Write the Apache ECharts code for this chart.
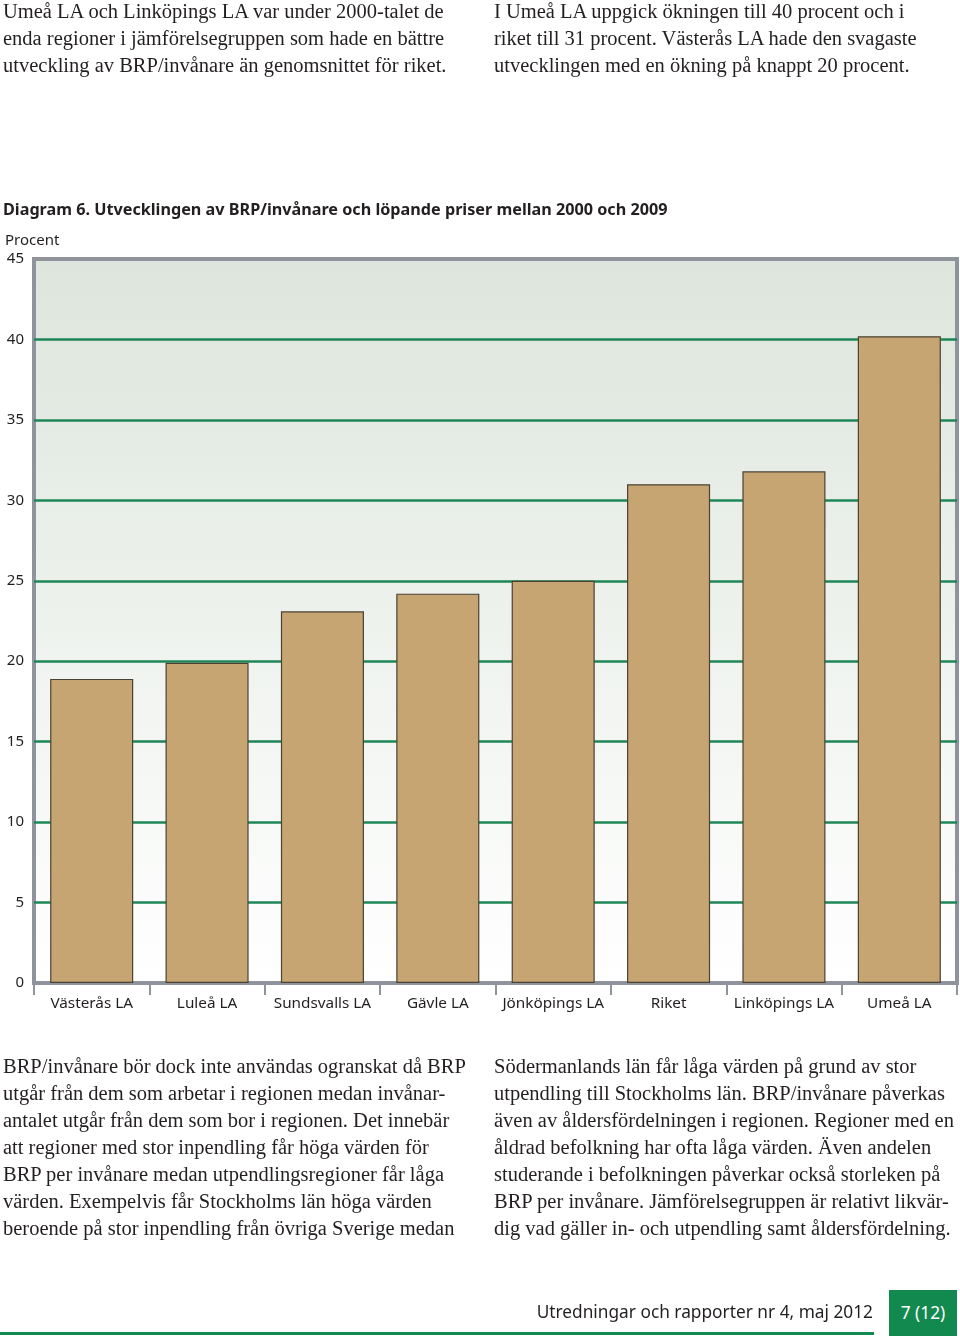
<!DOCTYPE html>
<html>
<head>
<meta charset="utf-8">
<script src="https://cdn.jsdelivr.net/npm/echarts@6/dist/echarts.min.js"></script>
<style>
  html, body { margin: 0; padding: 0; background: #fff; }
  #page { position: relative; width: 960px; height: 1339px; overflow: hidden; }
  #chart { position: absolute; left: 0; top: 0; width: 960px; height: 1339px; }
  .para { position: absolute; font-family: "Liberation Serif", "DejaVu Serif", serif; font-size: 20.5px; line-height: 27px; color: #231f20; white-space: nowrap; }
  #footer { position: absolute; right: 87px; top: 1300px; font-family: "Noto Sans", "Open Sans", sans-serif; font-size: 17.3px; color: #231f20; white-space: nowrap; }
  #footline { position: absolute; left: 0; top: 1332px; width: 874px; height: 3px; background: #128a4f; }
  #pagebox { position: absolute; left: 889px; top: 1290px; width: 68px; height: 46px; background: #128a4f; color: #fff; font-family: "Noto Sans", "Open Sans", sans-serif; font-size: 17.3px; line-height: 46px; text-align: center; }
</style>
</head>
<body>
<div id="page">
  <div id="chart"></div>
  <div class="para" style="left:3px; top:-2px;">Umeå LA och Linköpings LA var under 2000-talet de<br>enda regioner i jämförelsegruppen som hade en bättre<br>utveckling av BRP/invånare än genomsnittet för riket.</div>
  <div class="para" style="left:494px; top:-2px;">I Umeå LA uppgick ökningen till 40 procent och i<br>riket till 31 procent. Västerås LA hade den svagaste<br>utvecklingen med en ökning på knappt 20 procent.</div>
  <div class="para" style="left:3px; top:1053px;">BRP/invånare bör dock inte användas ogranskat då BRP<br>utgår från dem som arbetar i regionen medan invånar-<br>antalet utgår från dem som bor i regionen. Det innebär<br>att regioner med stor inpendling får höga värden för<br>BRP per invånare medan utpendlingsregioner får låga<br>värden. Exempelvis får Stockholms län höga värden<br>beroende på stor inpendling från övriga Sverige medan</div>
  <div class="para" style="left:494px; top:1053px;">Södermanlands län får låga värden på grund av stor<br>utpendling till Stockholms län. BRP/invånare påverkas<br>även av åldersfördelningen i regionen. Regioner med en<br>åldrad befolkning har ofta låga värden. Även andelen<br>studerande i befolkningen påverkar också storleken på<br>BRP per invånare. Jämförelsegruppen är relativt likvär-<br>dig vad gäller in- och utpendling samt åldersfördelning.</div>
  <div id="footer">Utredningar och rapporter nr 4, maj 2012</div>
  <div id="footline"></div>
  <div id="pagebox">7 (12)</div>
</div>
<script>
const categories = ["Västerås LA", "Luleå LA", "Sundsvalls LA", "Gävle LA", "Jönköpings LA", "Riket", "Linköpings LA", "Umeå LA"];
const values = [18.9, 19.9, 23.1, 24.2, 25.0, 31.0, 31.8, 40.2];
const titleText = "Diagram 6. Utvecklingen av BRP/invånare och löpande priser mellan 2000 och 2009";
const yAxisName = "Procent";

const chart = echarts.init(document.getElementById('chart'), null, { renderer: 'canvas' });
const sans = '"Noto Sans", "Open Sans", sans-serif';
chart.setOption({
  animation: false,
  graphic: [
    { type: 'text', left: 3, top: 202, style: { text: titleText, font: 'bold 16.2px ' + sans, fill: '#231f20' } },
    { type: 'text', left: 5, top: 233, style: { text: yAxisName, font: '15px ' + sans, fill: '#231f20' } }
  ],
  grid: {
    left: 34, right: 3, top: 259, bottom: 356,
    show: true,
    borderColor: '#8f939b',
    borderWidth: 4,
    backgroundColor: new echarts.graphic.LinearGradient(0, 0, 0, 1, [
      { offset: 0, color: '#dde5dc' },
      { offset: 1, color: '#ffffff' }
    ])
  },
  xAxis: {
    type: 'category',
    data: categories,
    axisLine: { show: true, lineStyle: { color: '#8f939b', width: 4 } },
    axisTick: { show: true, alignWithLabel: false, length: 12, lineStyle: { color: '#8f939b', width: 2 } },
    axisLabel: { color: '#231f20', fontSize: 15.3, fontFamily: sans, margin: 13, interval: 0 },
    splitLine: { show: false }
  },
  yAxis: {
    type: 'value',
    min: 0, max: 45, interval: 5,
    axisLine: { show: false },
    axisTick: { show: false },
    axisLabel: { color: '#231f20', fontSize: 15, fontFamily: sans, margin: 10 },
    splitLine: { show: true, showMinLine: false, showMaxLine: false, lineStyle: { color: '#1d8757', width: 2.5 } }
  },
  series: [{
    type: 'bar',
    data: values,
    barCategoryGap: '28%',
    itemStyle: { color: '#c6a572', borderColor: '#4a4233', borderWidth: 1.2 }
  }]
});
</script>
</body>
</html>
